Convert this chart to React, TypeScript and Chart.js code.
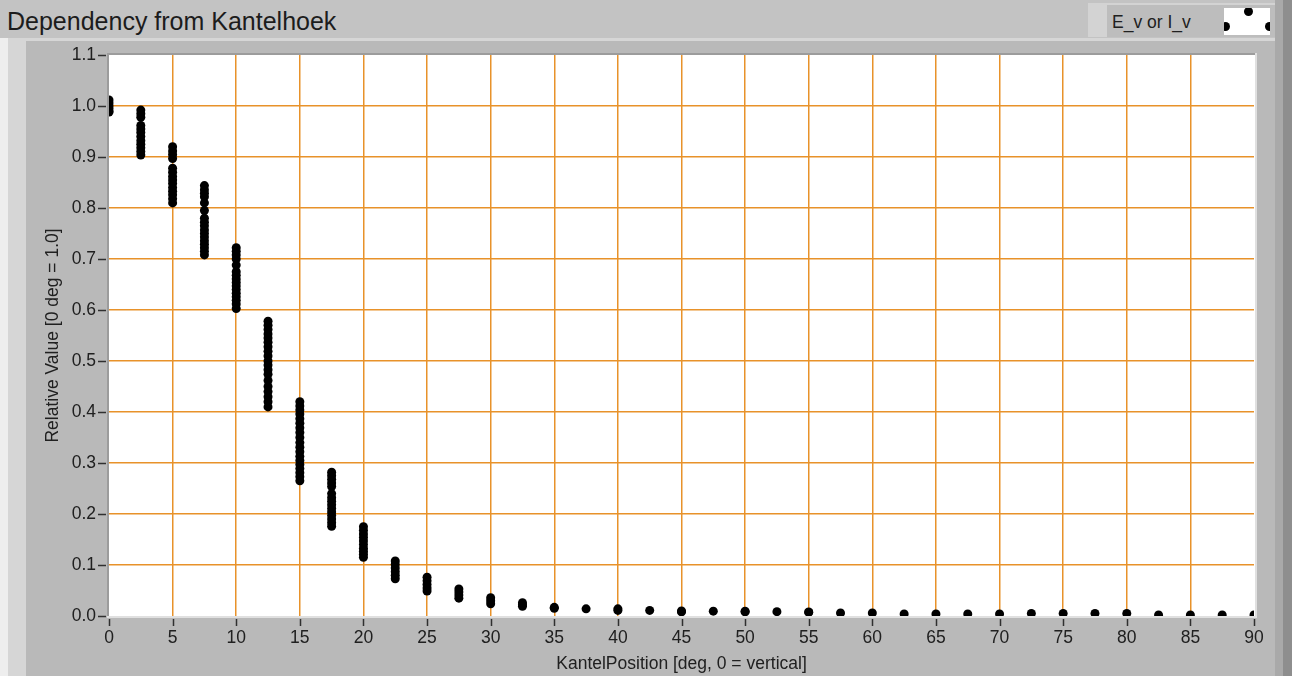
import React, { useEffect, useRef } from "react";
import { Chart, registerables } from "chart.js";

Chart.register(...registerables);

const chartTitle = "Dependency from Kantelhoek";
const legendLabel = "E_v or I_v";
const xAxisTitle = "KantelPosition [deg, 0 = vertical]";
const yAxisTitle = "Relative Value [0 deg = 1.0]";

const angles = [
  0, 2.5, 5, 7.5, 10, 12.5, 15, 17.5, 20, 22.5, 25, 27.5, 30, 32.5, 35, 37.5, 40, 42.5, 45,
  47.5, 50, 52.5, 55, 57.5, 60, 62.5, 65, 67.5, 70, 72.5, 75, 77.5, 80, 82.5, 85, 87.5, 90,
];

const values: number[][] = [
  [1.012, 1.006, 1.0, 0.995, 0.99, 0.988],
  [0.992, 0.985, 0.978, 0.962, 0.955, 0.948, 0.94, 0.932, 0.925, 0.918, 0.911, 0.904],
  [0.92, 0.912, 0.905, 0.897, 0.878, 0.87, 0.862, 0.855, 0.848, 0.84, 0.833, 0.826, 0.818, 0.81],
  [0.844, 0.836, 0.829, 0.822, 0.81, 0.795, 0.78, 0.772, 0.765, 0.757, 0.75, 0.743, 0.736, 0.729, 0.722, 0.715, 0.708],
  [0.722, 0.715, 0.708, 0.7, 0.688, 0.675, 0.668, 0.661, 0.654, 0.647, 0.64, 0.633, 0.626, 0.619, 0.612, 0.603],
  [0.578, 0.57, 0.562, 0.553, 0.545, 0.537, 0.528, 0.519, 0.51, 0.5, 0.492, 0.483, 0.474, 0.462, 0.45, 0.44, 0.43, 0.42, 0.41],
  [0.42, 0.412, 0.404, 0.396, 0.387, 0.378, 0.369, 0.36, 0.35, 0.34, 0.331, 0.322, 0.313, 0.305, 0.297, 0.289, 0.281, 0.273, 0.265],
  [0.282, 0.275, 0.268, 0.261, 0.254, 0.24, 0.232, 0.225, 0.218, 0.211, 0.204, 0.197, 0.19, 0.183, 0.176],
  [0.175, 0.168, 0.161, 0.154, 0.147, 0.14, 0.133, 0.127, 0.121, 0.115],
  [0.108, 0.101, 0.094, 0.087, 0.08, 0.073],
  [0.076, 0.069, 0.062, 0.055, 0.049],
  [0.053, 0.047, 0.041, 0.035],
  [0.036, 0.03, 0.024],
  [0.026, 0.022, 0.019],
  [0.017, 0.015],
  [0.014],
  [0.014, 0.011],
  [0.011],
  [0.01, 0.008],
  [0.0095],
  [0.0095, 0.008],
  [0.0085],
  [0.008, 0.007],
  [0.006],
  [0.006],
  [0.004],
  [0.004],
  [0.004],
  [0.004],
  [0.005],
  [0.005],
  [0.005],
  [0.005],
  [0.002],
  [0.002],
  [0.002],
  [0.002],
];

const xTicksStep = 5;
const yTicksStep = 0.1;

const FONT = '"Liberation Sans", Arial, sans-serif';
const ORANGE = "#e8922a";
const TEXT = "#202020";

const framePlugin = {
  id: "frame",
  beforeDraw(chart: any) {
    const { ctx, chartArea: a } = chart;
    ctx.save();
    ctx.fillStyle = "#ffffff";
    ctx.fillRect(a.left, a.top, a.right - a.left + 1, a.bottom - a.top);
    ctx.fillStyle = "#9c9c9c";
    ctx.fillRect(a.left - 2, a.top - 2, a.right - a.left + 5, 2);
    ctx.fillRect(a.left - 2, a.top - 2, 2, a.bottom - a.top + 4);
    ctx.fillStyle = "#e0e0e0";
    ctx.fillRect(a.left - 2, a.bottom, a.right - a.left + 5, 2);
    ctx.fillRect(a.right + 1, a.top - 2, 2, a.bottom - a.top + 4);
    ctx.restore();
  },
  afterDraw(chart: any) {
    const { ctx, chartArea: a, scales } = chart;
    ctx.save();
    ctx.strokeStyle = "#303030";
    ctx.lineWidth = 1.5;
    ctx.beginPath();
    for (const t of scales.x.ticks) {
      const px = Math.round(scales.x.getPixelForValue(t.value)) + 0.5;
      ctx.moveTo(px, a.bottom + 3);
      ctx.lineTo(px, a.bottom + 10);
    }
    for (const t of scales.y.ticks) {
      const py = Math.round(scales.y.getPixelForValue(t.value)) + 0.5;
      ctx.moveTo(a.left - 11, py);
      ctx.lineTo(a.left - 3, py);
    }
    ctx.stroke();
    ctx.restore();
  },
};

function gridColor(c: any) {
  const n = c.scale.ticks.length;
  return c.index === 0 || c.index === n - 1 ? "rgba(0,0,0,0)" : ORANGE;
}

export default function App() {
  const ref = useRef<HTMLCanvasElement | null>(null);

  useEffect(() => {
    if (!ref.current) return;
    const points: { x: number; y: number }[] = [];
    angles.forEach((a, i) => {
      values[i].forEach((v) => points.push({ x: a, y: v }));
    });
    const chart = new Chart(ref.current, {
      type: "scatter",
      data: {
        datasets: [
          {
            label: legendLabel,
            data: points,
            backgroundColor: "#000000",
            borderWidth: 0,
            pointRadius: 4.5,
            pointHoverRadius: 4.5,
            clip: 0,
          } as any,
        ],
      },
      options: {
        animation: false,
        responsive: false,
        maintainAspectRatio: false,
        events: [],
        layout: { padding: { top: 15, right: 21, left: 0, bottom: 0 } },
        plugins: {
          legend: { display: false },
          tooltip: { enabled: false },
          title: { display: false },
        },
        scales: {
          x: {
            type: "linear",
            min: 0,
            max: 90,
            afterFit: (s: any) => {
              s.height = 60;
              s.paddingLeft = 0;
              s.paddingRight = 0;
            },
            border: { display: false },
            grid: { color: gridColor, lineWidth: 1.5, drawTicks: false },
            ticks: {
              stepSize: xTicksStep,
              padding: 12,
              color: TEXT,
              font: { family: FONT, size: 17.5 },
              maxRotation: 0,
              autoSkip: false,
            },
            title: {
              display: true,
              text: xAxisTitle,
              color: TEXT,
              font: { family: FONT, size: 17.5 },
              padding: { top: 0, bottom: 1 },
            },
          },
          y: {
            type: "linear",
            min: 0,
            max: 1.1,
            afterFit: (s: any) => {
              s.width = 83;
              s.paddingTop = 0;
              s.paddingBottom = 0;
            },
            border: { display: false },
            grid: { color: gridColor, lineWidth: 1.5, drawTicks: false },
            ticks: {
              stepSize: yTicksStep,
              padding: 13,
              color: TEXT,
              font: { family: FONT, size: 17.5 },
              autoSkip: false,
              callback: (v: any) => Number(v).toFixed(1),
            },
            title: {
              display: true,
              text: yAxisTitle,
              color: TEXT,
              font: { family: FONT, size: 17.5 },
              padding: { top: 17, bottom: 0 },
            },
          },
        },
      },
      plugins: [framePlugin],
    });
    return () => chart.destroy();
  }, []);

  const abs = (l: number, t: number, w: number, h: number, bg: string): React.CSSProperties => ({
    position: "absolute",
    left: l,
    top: t,
    width: w,
    height: h,
    background: bg,
  });

  const dot = (cx: number, cy: number): React.CSSProperties => ({
    position: "absolute",
    left: cx - 4.5,
    top: cy - 4.5,
    width: 9,
    height: 9,
    borderRadius: "50%",
    background: "#000",
  });

  return (
    <div
      style={{
        position: "fixed",
        left: 0,
        top: 0,
        width: 1292,
        height: 676,
        background: "#c3c3c3",
        overflow: "hidden",
        fontFamily: FONT,
      }}
    >
      <div style={abs(0, 38, 8, 638, "#eeeeee")} />
      <div style={abs(8, 38, 1267, 3, "#d6d6d6")} />
      <div style={abs(8, 38, 18, 638, "#d6d6d6")} />
      <div style={abs(26, 41, 1249, 635, "#b9b9b9")} />
      <div style={abs(1275, 0, 8, 676, "#a9a9a9")} />
      <div style={abs(1283, 0, 9, 676, "#8e8e8e")} />
      <div
        style={{
          position: "absolute",
          left: 7,
          top: 4,
          fontSize: 25,
          lineHeight: "34px",
          color: "#1c1c1c",
          whiteSpace: "nowrap",
        }}
      >
        {chartTitle}
      </div>
      <div style={abs(1088, 3, 187, 34, "#d3d3d3")} />
      <div style={abs(1107, 5, 168, 32, "#bdbdbd")} />
      <div
        style={{
          position: "absolute",
          left: 1112,
          top: 12,
          fontSize: 17.5,
          lineHeight: "20px",
          color: TEXT,
          whiteSpace: "nowrap",
        }}
      >
        {legendLabel}
      </div>
      <div style={{ ...abs(1224, 8, 46, 27, "#ffffff"), overflow: "hidden" }}>
        <div style={dot(24, 3)} />
        <div style={dot(1, 18)} />
        <div style={dot(45, 18)} />
      </div>
      <canvas
        ref={ref}
        width={1249}
        height={636}
        style={{ position: "absolute", left: 26, top: 40, width: 1249, height: 636 }}
      />
    </div>
  );
}
